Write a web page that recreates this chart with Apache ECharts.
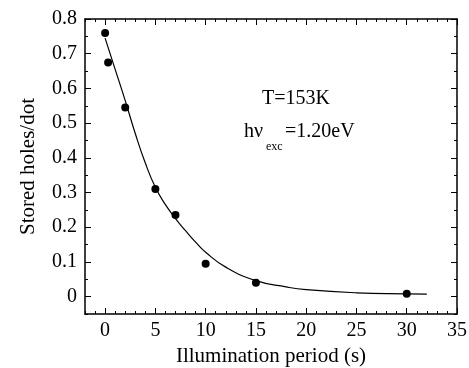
<!DOCTYPE html>
<html>
<head>
<meta charset="utf-8">
<script src="https://cdn.jsdelivr.net/npm/echarts@6/dist/echarts.min.js"></script>
<style>
  html, body { margin: 0; padding: 0; background: #fff; }
  #chart { width: 469px; height: 368px; }
</style>
</head>
<body>
<div id="chart"></div>
<script>
// measured points
var xPts = [0, 0.3, 2, 5, 7, 10, 15, 30]
var yPts = [0.76, 0.675, 0.545, 0.31, 0.235, 0.095, 0.04, 0.008]
// fitted curve
var curveX = [0, 1, 2, 3, 4, 5, 6, 7, 8, 9, 10, 12, 15, 18, 20, 25, 30, 32]
var curveY = [0.745, 0.655, 0.565, 0.47, 0.385, 0.315, 0.265, 0.225, 0.19, 0.157, 0.128, 0.085, 0.046, 0.028, 0.02, 0.011, 0.008, 0.007]
// ticks
var xTicks = [0, 5, 10, 15, 20, 25, 30, 35]
var xMinor = []
for (var i = -2; i <= 35; i++) xMinor.push(i)
var yTicks = [0, 0.1, 0.2, 0.3, 0.4, 0.5, 0.6, 0.7, 0.8]
var yMinor = [-0.05, 0.05, 0.15, 0.25, 0.35, 0.45, 0.55, 0.65, 0.75]

var font = 'Liberation Serif'
var black = '#000'

function xAx(pos, major, show) {
  return {
    type: 'value', min: -2, max: 35, position: pos,
    axisLine: { show: major, onZero: false, lineStyle: { color: black, width: 1.5 } },
    axisTick: { inside: true, length: major ? 6 : 3, customValues: major ? xTicks : xMinor, lineStyle: { color: black, width: 1 } },
    axisLabel: { show: show, customValues: xTicks, fontSize: 20, fontFamily: font, color: black, margin: 7 },
    splitLine: { show: false }
  }
}
function yAx(pos, major, show) {
  return {
    type: 'value', min: -0.05, max: 0.8, position: pos,
    axisLine: { show: major, onZero: false, lineStyle: { color: black, width: 1.5 } },
    axisTick: { inside: true, length: major ? 6 : 3, customValues: major ? yTicks : yMinor, lineStyle: { color: black, width: 1 } },
    axisLabel: {
      show: show, customValues: yTicks, fontSize: 20, fontFamily: font, color: black, margin: 8,
      formatter: function (v) { return v === 0 ? '0' : v.toFixed(1) }
    },
    splitLine: { show: false }
  }
}

var xAxes = [xAx('bottom', true, true), xAx('bottom', false, false), xAx('top', true, false), xAx('top', false, false)]
xAxes[0].name = 'Illumination period (s)'
xAxes[0].nameLocation = 'middle'
xAxes[0].nameGap = 32
xAxes[0].nameTextStyle = { fontSize: 21, fontFamily: font, color: black }

var yAxes = [yAx('left', true, true), yAx('left', false, false), yAx('right', true, false), yAx('right', false, false)]
yAxes[0].name = 'Stored holes/dot'
yAxes[0].nameLocation = 'middle'
yAxes[0].nameGap = 46
yAxes[0].nameTextStyle = { fontSize: 21, fontFamily: font, color: black }

var chart = echarts.init(document.getElementById('chart'))
chart.setOption({
  animation: false,
  backgroundColor: '#fff',
  grid: { left: 85, right: 12, top: 19, bottom: 54, outerBoundsMode: 'none' },
  xAxis: xAxes,
  yAxis: yAxes,
  graphic: [
    { type: 'text', left: 262, top: 89, style: { text: 'T=153K', fontSize: 20, fontFamily: font, fill: black } },
    { type: 'text', left: 244, top: 122, style: { text: 'hν', fontSize: 20, fontFamily: font, fill: black } },
    { type: 'text', left: 266, top: 141, style: { text: 'exc', fontSize: 12, fontFamily: font, fill: black } },
    { type: 'text', left: 285, top: 122, style: { text: '=1.20eV', fontSize: 20, fontFamily: font, fill: black } }
  ],
  series: [
    {
      type: 'line',
      data: curveX.map(function (x, i) { return [x, curveY[i]] }),
      smooth: true,
      showSymbol: false,
      lineStyle: { color: black, width: 1.2 }
    },
    {
      type: 'scatter',
      data: xPts.map(function (x, i) { return [x, yPts[i]] }),
      symbolSize: 8,
      itemStyle: { color: black, opacity: 1 }
    }
  ]
})
</script>
</body>
</html>
